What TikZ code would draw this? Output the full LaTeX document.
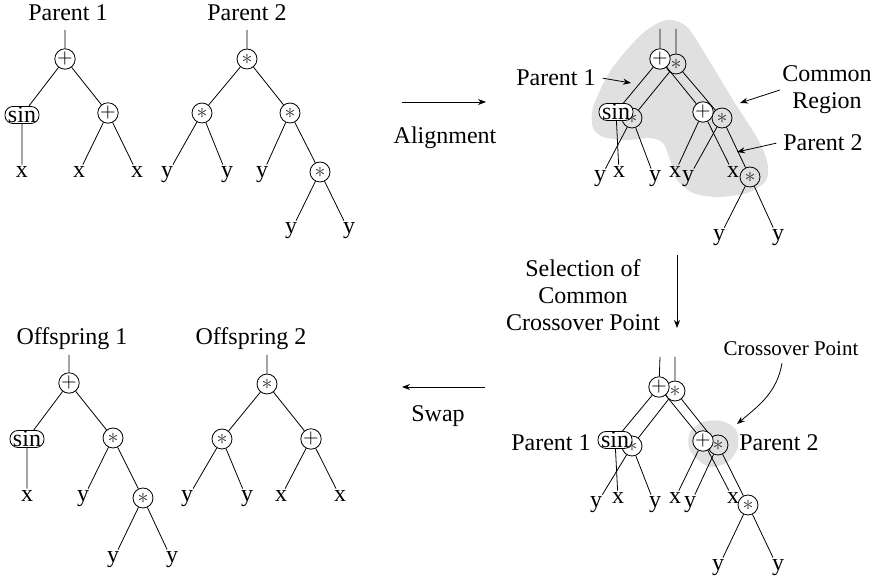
\documentclass[tikz,border=0pt]{standalone}
\usepackage{fontspec}
\setmainfont{Liberation Serif}
\usetikzlibrary{arrows.meta}

\newcommand{\opadd}{{\fontsize{10}{10}\selectfont$+$}}
\newcommand{\opmul}{{\fontsize{11}{11}\selectfont\color{black!80}$\ast$}}

\begin{document}
\begin{tikzpicture}[x=0.5pt, y=-0.5pt, font=\fontsize{12}{13.6}\selectfont,
        >={Stealth[length=4pt,width=3pt]},
        op/.style={circle, draw, fill=white, inner sep=0pt, minimum size=10pt},
        opb/.style={circle, draw, inner sep=0pt, minimum size=10pt},
        fn/.style={draw, fill=white, rounded corners=4pt, inner xsep=1.5pt, inner ysep=0pt, minimum height=8.5pt},
        leaf/.style={anchor=base, inner sep=1pt},
        lbl/.style={anchor=base}]
        \useasboundingbox (0,0) rectangle (879,576);

        % parent 1
        \node[lbl] (p1) at (68,21) {Parent 1};
        \coordinate (p1top) at (65,30);
        \node[op] (p1r) at (65,59) {\opadd};
        \node[fn] (p1s) at (22,115) {sin};
        \node[op] (p1a) at (108,113) {\opadd};
        \node[leaf] (p1x1) at (22,178) {x};
        \node[leaf] (p1x2) at (79,178) {x};
        \node[leaf] (p1x3) at (137,178) {x};
        \draw (p1top) -- (p1r) -- (p1s) -- (p1x1);
        \draw (p1r) -- (p1a) -- (p1x2);
        \draw (p1a) -- (p1x3);

        % parent 2
        \node[lbl] (p2) at (247,21) {Parent 2};
        \coordinate (p2top) at (247,30);
        \node[op] (p2r) at (247,59) {\opmul};
        \node[op] (p2a) at (202,113) {\opmul};
        \node[op] (p2b) at (290,113) {\opmul};
        \node[leaf] (p2y1) at (167,178) {y};
        \node[leaf] (p2y2) at (227,178) {y};
        \node[leaf] (p2y3) at (262,178) {y};
        \node[op] (p2c) at (320,172) {\opmul};
        \node[leaf] (p2y4) at (291,234) {y};
        \node[leaf] (p2y5) at (349,234) {y};
        \draw (p2top) -- (p2r) -- (p2a) -- (p2y1);
        \draw (p2a) -- (p2y2);
        \draw (p2r) -- (p2b) -- (p2y3);
        \draw (p2b) -- (p2c) -- (p2y4);
        \draw (p2c) -- (p2y5);

        % alignment
        \coordinate (al1) at (402,102);
        \coordinate (al2) at (486,102);
        \draw[->] (al1) -- (al2);
        \node[lbl] (alt) at (445,144) {Alignment};

        % aligned trees
        \fill[black!12] plot[smooth cycle] coordinates {(667,20) (643,33) (613,67) (597,97) (592,113) (593,128) (603,137) (627,140) (650,138) (663,143) (670,160) (677,180) (693,193) (717,197) (747,193) (765,182) (768,167) (760,143) (733,100) (707,57) (687,27)};
        \coordinate (q2top) at (676,29);
        \node[opb] (q2r) at (676,64) {\opmul};
        \node[opb] (q2a) at (632,118) {\opmul};
        \node[opb] (q2b) at (722,118) {\opmul};
        \node[leaf] (q2y1) at (600,182) {y};
        \node[leaf] (q2y2) at (655,182) {y};
        \node[leaf] (q2y3) at (688,182) {y};
        \node[opb] (q2c) at (750,177) {\opmul};
        \node[leaf] (q2y4) at (719,241) {y};
        \node[leaf] (q2y5) at (778,241) {y};
        \draw (q2top) -- (q2r) -- (q2a) -- (q2y1);
        \draw (q2a) -- (q2y2);
        \draw (q2r) -- (q2b) -- (q2y3);
        \draw (q2b) -- (q2c) -- (q2y4);
        \draw (q2c) -- (q2y5);
        \coordinate (q1top) at (660,29);
        \node[op] (q1r) at (660,59) {\opadd};
        \node[fn] (q1s) at (616,112) {sin};
        \node[op] (q1a) at (703,112) {\opadd};
        \node[leaf] (q1x1) at (619,178) {x};
        \node[leaf] (q1x2) at (675,178) {x};
        \node[leaf] (q1x3) at (733,178) {x};
        \draw (q1top) -- (q1r) -- (q1s) -- (q1x1);
        \draw (q1r) -- (q1a) -- (q1x2);
        \draw (q1a) -- (q1x3);

        \node[lbl] (q1l) at (556,86) {Parent 1};
        \coordinate (q1p) at (631,83);
        \draw[->] (q1l.east) -- (q1p);
        \node[align=center, inner sep=1pt] (cr) at (827,90) {Common\\Region};
        \coordinate (crp) at (740,103);
        \draw[->] (cr.west) -- (crp);
        \node[lbl] (q2l) at (823,151) {Parent 2};
        \coordinate (q2p) at (737,152);
        \draw[->] (q2l.west) -- (q2p);

        % selection
        \node[align=center] (sel) at (583,295) {Selection of\\Common\\Crossover Point};
        \coordinate (se1) at (677,255);
        \coordinate (se2) at (677,328);
        \draw[->] (se1) -- (se2);

        % crossover point
        \fill[black!12] plot[smooth cycle] coordinates {(690,432) (703,422) (722,421) (736,430) (738,447) (728,462) (711,467) (698,460) (689,448)};
        \coordinate (r2top) at (675,357);
        \node[opb] (r2r) at (675,391) {\opmul};
        \node[opb] (r2a) at (632,446) {\opmul};
        \node[opb] (r2b) at (718,445) {\opmul};
        \node[leaf] (r2y1) at (596,508) {y};
        \node[leaf] (r2y2) at (655,508) {y};
        \node[leaf] (r2y3) at (690,508) {y};
        \node[opb] (r2c) at (748,505) {\opmul};
        \node[leaf] (r2y4) at (718,571) {y};
        \node[leaf] (r2y5) at (778,571) {y};
        \draw (r2top) -- (r2r) -- (r2a) -- (r2y1);
        \draw (r2a) -- (r2y2);
        \draw (r2r) -- (r2b) -- (r2y3);
        \draw (r2b) -- (r2c) -- (r2y4);
        \draw (r2c) -- (r2y5);
        \coordinate (r1top) at (660,357);
        \node[op] (r1r) at (659,387) {\opadd};
        \node[fn] (r1s) at (615,440) {sin};
        \node[op] (r1a) at (703,441) {\opadd};
        \node[leaf] (r1x1) at (618,504) {x};
        \node[leaf] (r1x2) at (675,504) {x};
        \node[leaf] (r1x3) at (733,504) {x};
        \draw (r1top) -- (r1r) -- (r1s) -- (r1x1);
        \draw (r1r) -- (r1a) -- (r1x2);
        \draw (r1a) -- (r1x3);

        \node[lbl] (r1l) at (551,451) {Parent 1};
        \node[lbl] (r2l) at (779,451) {Parent 2};
        \node[lbl, font=\fontsize{10.5}{12}\selectfont] (cpl) at (791,356) {Crossover Point};
        \coordinate (cpt) at (737,424);
        \draw[->] ([xshift=-4.5pt]cpl.south) to[out=-100, in=40] (cpt);

        % swap
        \coordinate (sw1) at (485,387);
        \coordinate (sw2) at (402,387);
        \draw[->] (sw1) -- (sw2);
        \node[lbl] (swt) at (438,422) {Swap};

        % offspring 1
        \node[lbl] (o1) at (72,345) {Offspring 1};
        \coordinate (o1top) at (69,355);
        \node[op] (o1r) at (69,383) {\opadd};
        \node[fn] (o1s) at (27,439) {sin};
        \node[op] (o1a) at (113,438) {\opmul};
        \node[leaf] (o1x) at (27,502) {x};
        \node[leaf] (o1y1) at (83,502) {y};
        \node[op] (o1b) at (143,498) {\opmul};
        \node[leaf] (o1y2) at (113,563) {y};
        \node[leaf] (o1y3) at (172,563) {y};
        \draw (o1top) -- (o1r) -- (o1s) -- (o1x);
        \draw (o1r) -- (o1a) -- (o1y1);
        \draw (o1a) -- (o1b) -- (o1y2);
        \draw (o1b) -- (o1y3);

        % offspring 2
        \node[lbl] (o2) at (251,345) {Offspring 2};
        \coordinate (o2top) at (267,355);
        \node[op] (o2r) at (267,384) {\opmul};
        \node[op] (o2a) at (222,439) {\opmul};
        \node[op] (o2b) at (311,439) {\opadd};
        \node[leaf] (o2y1) at (187,502) {y};
        \node[leaf] (o2y2) at (247,502) {y};
        \node[leaf] (o2x1) at (281,502) {x};
        \node[leaf] (o2x2) at (340,502) {x};
        \draw (o2top) -- (o2r) -- (o2a) -- (o2y1);
        \draw (o2a) -- (o2y2);
        \draw (o2r) -- (o2b) -- (o2x1);
        \draw (o2b) -- (o2x2);
    \end{tikzpicture}
\end{document}
